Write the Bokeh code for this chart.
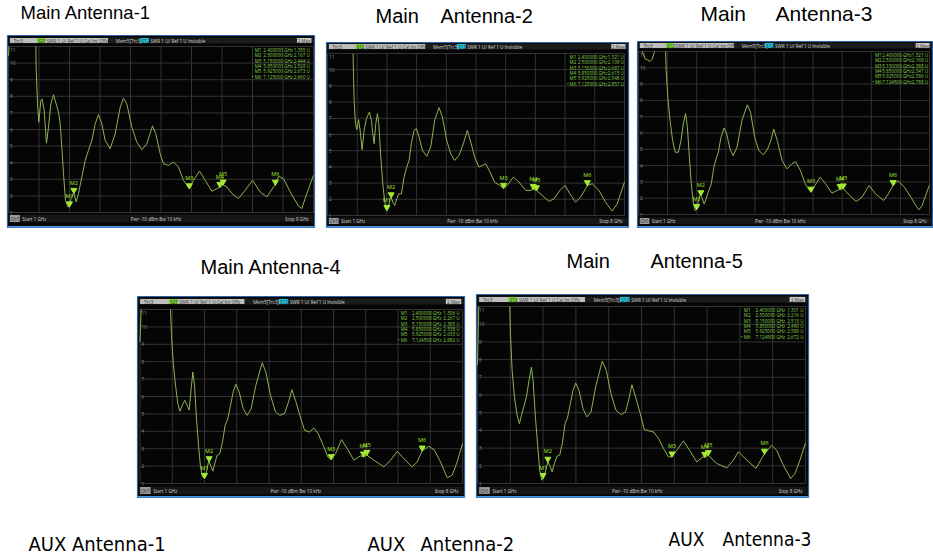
import math
from bokeh.plotting import figure
from bokeh.models import Range1d, InlineStyleSheet
from bokeh.core.properties import value
from bokeh.embed import file_html
from bokeh.resources import INLINE

NAN = float("nan")
W, H = 933, 558

# ---------------- data (frequency GHz, SWR) ----------------
trace_main1 = [(1.0, 10.45), (1.01, 11.0), (NAN, NAN), (1.627, 11.0), (1.635, 9.74), (1.666, 7.54), (1.696, 6.44),
               (1.742, 7.74), (1.773, 7.84), (1.819, 7.14), (1.872, 5.18), (1.918, 6.14), (1.972, 7.54), (2.033, 8.1),
               (2.094, 7.54), (2.148, 7.04), (2.186, 6.34), (2.224, 4.94), (2.262, 3.34), (2.308, 1.74), (2.362, 1.34),
               (2.4, 1.355), (2.44, 1.9), (2.5, 2.167), (2.553, 1.64), (2.607, 2.14), (2.683, 3.14), (2.76, 4.14),
               (2.836, 4.74), (2.913, 5.34), (2.989, 6.34), (3.066, 6.9), (3.142, 6.34), (3.219, 5.34), (3.333, 4.84),
               (3.448, 5.74), (3.563, 7.34), (3.639, 7.88), (3.716, 7.54), (3.831, 6.14), (3.945, 5.24), (4.06, 4.78),
               (4.175, 5.14), (4.305, 6.22), (4.381, 5.74), (4.481, 4.54), (4.557, 3.94), (4.672, 3.84), (4.787, 4.04),
               (4.902, 3.74), (5.016, 2.94), (5.15, 2.444), (5.246, 2.94), (5.384, 3.5), (5.514, 2.94), (5.667, 2.28),
               (5.85, 2.529), (5.925, 2.673), (6.011, 2.54), (6.164, 2.04), (6.279, 1.84), (6.432, 2.34), (6.6, 2.94),
               (6.776, 2.24), (6.929, 1.94), (7.082, 2.54), (7.125, 2.66), (7.197, 3.18), (7.312, 3.04), (7.465, 2.24),
               (7.656, 1.38), (7.732, 1.24), (7.847, 2.14), (8.0, 3.24)]
trace_main2 = [(1.604, 11.0), (1.612, 9.76), (1.628, 8.11), (1.659, 6.67), (1.691, 6.3), (1.73, 6.92), (1.769, 6.26),
               (1.816, 5.06), (1.863, 6.26), (1.918, 6.98), (1.989, 7.39), (2.036, 6.88), (2.067, 6.05), (2.099, 5.43),
               (2.138, 6.67), (2.177, 7.29), (2.209, 6.67), (2.256, 4.61), (2.303, 2.96), (2.35, 1.82), (2.381, 1.41),
               (2.4, 1.321), (2.436, 1.52), (2.476, 2.03), (2.5, 2.109), (2.538, 1.82), (2.585, 1.62), (2.632, 2.03),
               (2.679, 2.34), (2.742, 2.34), (2.805, 3.37), (2.867, 3.99), (2.923, 4.4), (2.977, 5.43), (3.04, 6.26),
               (3.095, 6.36), (3.158, 5.85), (3.237, 5.02), (3.339, 4.65), (3.433, 5.23), (3.527, 6.88), (3.629, 7.66),
               (3.708, 7.08), (3.81, 5.64), (3.904, 4.81), (3.998, 4.4), (4.1, 4.71), (4.202, 5.43), (4.296, 6.26),
               (4.375, 5.54), (4.469, 4.61), (4.571, 3.99), (4.649, 4.09), (4.728, 4.2), (4.83, 3.68), (4.94, 3.06),
               (5.058, 2.86), (5.15, 2.687), (5.238, 2.86), (5.38, 3.37), (5.513, 3.06), (5.67, 2.55), (5.787, 2.55),
               (5.85, 2.615), (5.925, 2.548), (6.062, 2.24), (6.219, 1.87), (6.337, 2.03), (6.478, 2.55), (6.596, 2.86),
               (6.713, 2.34), (6.847, 1.82), (6.964, 2.13), (7.082, 2.65), (7.125, 2.857), (7.239, 2.96), (7.397, 2.55),
               (7.554, 1.82), (7.711, 1.27), (7.828, 1.72), (8.0, 3.06)]
trace_main3 = [(1.085, 11.0), (1.163, 10.53), (1.217, 10.49), (1.279, 10.39), (1.325, 10.51), (1.387, 11.0), (NAN, NAN),
               (1.651, 11.0), (1.666, 9.82), (1.705, 8.18), (1.759, 6.76), (1.821, 5.53), (1.883, 4.82), (1.96, 4.82),
               (2.022, 5.53), (2.077, 6.55), (2.131, 7.2), (2.177, 6.35), (2.224, 4.51), (2.27, 2.88), (2.317, 1.76),
               (2.363, 1.24), (2.4, 1.321), (2.425, 1.65), (2.472, 2.16), (2.5, 2.168), (2.534, 1.96), (2.58, 1.65),
               (2.627, 1.96), (2.689, 2.47), (2.751, 2.88), (2.813, 3.9), (2.867, 4.41), (2.921, 4.82), (2.983, 5.73),
               (3.06, 6.31), (3.122, 5.94), (3.2, 5.02), (3.277, 4.61), (3.37, 5.12), (3.486, 6.76), (3.618, 7.73),
               (3.696, 7.27), (3.796, 5.73), (3.897, 4.92), (4.005, 4.67), (4.106, 5.02), (4.184, 5.53), (4.253, 6.24),
               (4.339, 5.53), (4.455, 4.31), (4.571, 3.8), (4.687, 4.1), (4.78, 4.24), (4.896, 3.69), (5.012, 2.88),
               (5.113, 2.47), (5.15, 2.388), (5.245, 2.78), (5.369, 3.29), (5.5, 2.88), (5.655, 2.31), (5.772, 2.47),
               (5.85, 2.547), (5.925, 2.586), (6.081, 2.16), (6.236, 1.8), (6.376, 2.06), (6.546, 2.78), (6.701, 2.27),
               (6.895, 1.86), (7.011, 2.27), (7.1245, 2.788), (7.243, 3.08), (7.398, 2.67), (7.553, 2.06), (7.669, 1.55),
               (7.747, 1.29), (7.824, 1.55), (7.878, 1.96), (7.979, 2.67), (8.0, 2.8)]
trace_main4 = [(1.0, 9.13), (1.025, 11.0), (NAN, NAN), (1.662, 11.0), (1.684, 9.51), (1.72, 7.98), (1.771, 6.64),
               (1.821, 5.59), (1.865, 5.15), (1.915, 5.49), (1.973, 5.78), (2.024, 5.49), (2.067, 5.21), (2.103, 6.26),
               (2.147, 7.41), (2.183, 6.64), (2.226, 4.73), (2.27, 3.2), (2.313, 1.96), (2.357, 1.38), (2.4, 1.306),
               (2.443, 1.67), (2.487, 2.24), (2.5, 2.267), (2.545, 1.96), (2.581, 1.71), (2.632, 2.24), (2.675, 2.63),
               (2.733, 2.72), (2.791, 3.39), (2.849, 4.35), (2.907, 4.73), (2.965, 5.49), (3.023, 6.26), (3.08, 6.7),
               (3.153, 6.26), (3.24, 5.3), (3.326, 4.92), (3.413, 5.3), (3.514, 6.64), (3.652, 7.94), (3.731, 7.41),
               (3.833, 6.07), (3.941, 5.11), (4.035, 4.92), (4.137, 5.02), (4.223, 5.68), (4.296, 6.39), (4.375, 5.78),
               (4.469, 4.92), (4.571, 4.06), (4.679, 3.96), (4.773, 4.19), (4.867, 3.87), (4.976, 3.2), (5.077, 2.53),
               (5.15, 2.385), (5.244, 2.72), (5.374, 3.52), (5.497, 3.01), (5.642, 2.34), (5.787, 2.59), (5.85, 2.538),
               (5.925, 2.633), (6.076, 2.34), (6.293, 1.96), (6.438, 2.34), (6.583, 2.85), (6.727, 2.43), (6.908, 1.96),
               (7.017, 2.24), (7.1245, 2.882), (7.27, 3.14), (7.393, 2.91), (7.523, 2.24), (7.668, 1.33), (7.776, 1.48),
               (7.885, 2.24), (8.0, 3.29)]
trace_main5 = [(1.0, 7.7), (1.028, 11.0), (NAN, NAN), (1.689, 11.0), (1.703, 9.46), (1.739, 7.39), (1.788, 5.89),
               (1.845, 4.85), (1.895, 4.38), (1.938, 4.85), (1.987, 5.32), (2.044, 5.89), (2.101, 6.83), (2.151, 7.58),
               (2.186, 6.83), (2.236, 4.76), (2.286, 3.07), (2.328, 1.75), (2.371, 1.19), (2.4, 1.301), (2.456, 1.75),
               (2.5, 2.216), (2.555, 1.94), (2.591, 1.66), (2.641, 2.13), (2.697, 2.54), (2.754, 2.6), (2.811, 3.26),
               (2.868, 4.38), (2.925, 4.76), (2.982, 5.51), (3.038, 6.26), (3.095, 6.68), (3.166, 6.26), (3.251, 5.23),
               (3.337, 4.76), (3.422, 5.04), (3.521, 6.45), (3.663, 7.92), (3.749, 7.39), (3.848, 6.08), (3.955, 5.14),
               (4.061, 4.89), (4.16, 5.04), (4.232, 5.79), (4.295, 6.58), (4.374, 5.89), (4.473, 4.95), (4.558, 4.05),
               (4.665, 3.97), (4.757, 3.91), (4.864, 3.54), (4.97, 2.97), (5.077, 2.5), (5.15, 2.513), (5.254, 2.88),
               (5.396, 3.41), (5.524, 2.88), (5.68, 2.22), (5.808, 2.5), (5.85, 2.49), (5.925, 2.589), (6.107, 2.13),
               (6.32, 1.88), (6.462, 2.32), (6.568, 2.79), (6.71, 2.41), (6.944, 1.85), (7.044, 2.32), (7.1245, 2.672),
               (7.278, 3.16), (7.385, 2.88), (7.527, 2.03), (7.683, 1.28), (7.776, 1.56), (7.882, 2.32), (8.0, 3.3)]

marker_names = ["M1", "M2", "M3", "M4", "M5", "M6"]
marker_freq_main1 = [2.4, 2.5, 5.15, 5.85, 5.925, 7.125]
marker_swr_main1 = [1.355, 2.167, 2.444, 2.529, 2.673, 2.660]
marker_freq_main2 = [2.4, 2.5, 5.15, 5.85, 5.925, 7.125]
marker_swr_main2 = [1.321, 2.109, 2.687, 2.615, 2.548, 2.857]
marker_freq_main3 = [2.4, 2.5, 5.15, 5.85, 5.925, 7.1245]
marker_swr_main3 = [1.321, 2.168, 2.388, 2.547, 2.586, 2.788]
marker_freq_main4 = [2.4, 2.5, 5.15, 5.85, 5.925, 7.1245]
marker_swr_main4 = [1.306, 2.267, 2.385, 2.538, 2.633, 2.882]
marker_freq_main5 = [2.4, 2.5, 5.15, 5.85, 5.925, 7.1245]
marker_swr_main5 = [1.301, 2.216, 2.513, 2.490, 2.589, 2.672]

freq_start, freq_stop = 1.0, 8.0
freq_grid = [1.0, 1.7, 2.4, 3.1, 3.8, 4.5, 5.2, 5.9, 6.6, 7.3, 8.0]
swr_grid = [1, 2, 3, 4, 5, 6, 7, 8, 9, 10, 11]
swr_bottom, swr_top = 1.0, 11.0

# ---------------- layout (page pixels) ----------------
PANELS = [
    dict(key="m1", trace=trace_main1, mf=marker_freq_main1, ms=marker_swr_main1, sp="S21",
         L=8, R=313, T=46, B=212, fx0=7, fx1=314, fy0=35, fy1=227, hy0=37, hy1=43, ty0=214, ty1=222),
    dict(key="m2", trace=trace_main2, mf=marker_freq_main2, ms=marker_swr_main2, sp="S12",
         L=327, R=624, T=53, B=215, fx0=326, fx1=628, fy0=42, fy1=227, hy0=43, hy1=49, ty0=217, ty1=224),
    dict(key="m3", trace=trace_main3, mf=marker_freq_main3, ms=marker_swr_main3, sp="S12",
         L=638, R=929, T=51, B=214, fx0=637, fx1=932, fy0=41, fy1=227, hy0=42, hy1=48, ty0=217, ty1=224),
    dict(key="m4", trace=trace_main4, mf=marker_freq_main4, ms=marker_swr_main4, sp="S21",
         L=139.5, R=462, T=309, B=483, fx0=137, fx1=464, fy0=296, fy1=497, hy0=298, hy1=304, ty0=486, ty1=494),
    dict(key="m5", trace=trace_main5, mf=marker_freq_main5, ms=marker_swr_main5, sp="S12",
         L=477, R=805, T=306, B=483, fx0=476, fx1=808, fy0=294, fy1=497, hy0=296, hy1=302, ty0=486, ty1=494),
]

UI = value("Open Sans")
TITLE = value("Liberation Sans")
NARROW = value("DejaVu Sans Condensed")

p = figure(width=W, height=H, x_range=Range1d(0, W), y_range=Range1d(H, 0),
           x_axis_location=None, y_axis_location=None, toolbar_location=None,
           output_backend="svg", min_border=0, title=None)
p.outline_line_color = None
p.background_fill_color = "white"
p.border_fill_color = "white"
p.xgrid.visible = False
p.ygrid.visible = False
p.stylesheets = [InlineStyleSheet(css=":host{position:absolute !important;left:0px !important;top:0px !important;}")]


def ui_text(x, y, txt, color, size="4.6px", align="left"):
    p.text(x=[x], y=[y], text=[txt], text_color=color, text_font=UI, text_font_size=size,
           text_align=align, text_baseline="middle")


for pn in PANELS:
    fx0, fx1 = pn["fx0"], pn["fx1"]
    fw = fx1 - fx0
    hx = lambda f, fx0=fx0, fw=fw: fx0 + f * fw
    # panel body
    p.quad(left=[fx0], right=[fx1], top=[pn["fy0"]], bottom=[pn["fy1"]],
           fill_color="#050505", line_color="#2d64a8", line_width=1.2)
    # header bar
    hy0, hy1 = pn["hy0"], pn["hy1"]
    hm = (hy0 + hy1) / 2
    p.quad(left=[fx0 + 1], right=[fx1 - 1], top=[hy0], bottom=[hy1], fill_color="#1c1c1c", line_color=None)
    p.quad(left=[hx(0.008)], right=[hx(0.327)], top=[hy0 + 0.4], bottom=[hy1 - 0.4], fill_color="#bdbdbd", line_color=None)
    p.quad(left=[hx(0.096)], right=[hx(0.123)], top=[hy0 + 0.4], bottom=[hy1 - 0.4], fill_color="#7acb3a", line_color=None)
    ui_text(hx(0.02), hm, "Trc3", "#303030")
    ui_text(hx(0.1), hm, pn["sp"], "#1c3a10")
    ui_text(hx(0.128), hm, "SWR  1 U/ Ref 1 U  Cal Int Offs", "#3a3a3a")
    ui_text(hx(0.353), hm, "Mem5[Trc3]", "#cfcfcf")
    p.quad(left=[hx(0.432)], right=[hx(0.461)], top=[hy0 + 0.4], bottom=[hy1 - 0.4], fill_color="#2bc0d0", line_color=None)
    ui_text(hx(0.436), hm, "S12", "#0d3340")
    ui_text(hx(0.466), hm, "SWR  1 U/ Ref 1 U  Invisible", "#d8d8d8")
    p.quad(left=[hx(0.943)], right=[hx(0.99)], top=[hy0 + 0.4], bottom=[hy1 - 0.4], fill_color="#c6c6c6", line_color=None)
    ui_text(hx(0.9665), hm, "2.Max", "#303030", align="center")
    # footer bar
    ty0, ty1 = pn["ty0"], pn["ty1"]
    tm = (ty0 + ty1) / 2
    p.quad(left=[fx0 + 1], right=[fx1 - 1], top=[ty0], bottom=[ty1], fill_color="#151515", line_color=None)
    p.quad(left=[hx(0.008)], right=[hx(0.04)], top=[ty0 + 0.6], bottom=[ty1 - 0.6], fill_color="#9a9a9a", line_color=None)
    ui_text(hx(0.024), tm, "Ch1", "#202020", align="center")
    ui_text(hx(0.048), tm, "Start  1 GHz", "#d6d6d6")
    ui_text(hx(0.49), tm, "Pwr  -10 dBm  Bw  10 kHz", "#d6d6d6", align="center")
    ui_text(hx(0.985), tm, "Stop  8 GHz", "#d6d6d6", align="right")
    p.quad(left=[fx0], right=[fx1], top=[pn["fy1"] - 1.6], bottom=[pn["fy1"]], fill_color="#4f95dc", line_color=None)

    # panel scales: frequency (GHz) and SWR mapped onto the plot area of this panel
    L, R, T, B = pn["L"], pn["R"], pn["T"], pn["B"]
    kx = (R - L) / (freq_stop - freq_start)
    ky = (B - T) / (swr_top - swr_bottom)
    xn, yn = "x_" + pn["key"], "y_" + pn["key"]
    p.extra_x_ranges[xn] = Range1d(freq_start - L / kx, freq_start + (W - L) / kx)
    p.extra_y_ranges[yn] = Range1d(swr_top - (H - T) / ky, swr_top + T / ky)
    kw = dict(x_range_name=xn, y_range_name=yn)

    # graticule
    p.segment(x0=freq_grid, y0=[swr_bottom] * len(freq_grid), x1=freq_grid, y1=[swr_top] * len(freq_grid),
              line_color="#333333", line_width=1, **kw)
    p.segment(x0=[freq_start] * len(swr_grid), y0=swr_grid, x1=[freq_stop] * len(swr_grid), y1=swr_grid,
              line_color="#333333", line_width=1, **kw)
    lab = [str(v) for v in swr_grid]
    p.text(x=[freq_start] * 10, y=swr_grid[:10], text=lab[:10], x_offset=1.5, text_color="#8c8c8c",
           text_font=UI, text_font_size="4.6px", text_baseline="middle", **kw)
    p.text(x=[freq_start], y=[swr_top], text=[lab[10]], x_offset=1.5, y_offset=1, text_color="#8c8c8c",
           text_font=UI, text_font_size="4.6px", text_baseline="top", **kw)

    # trace
    xs = [a for a, b in pn["trace"]]
    ys = [b for a, b in pn["trace"]]
    p.line(xs, ys, line_color="#8db352", line_width=1.0, **kw)

    # markers on the trace
    mf, ms = pn["mf"], pn["ms"]
    tri_y = [v + 3.0 / ky for v in ms]
    lab_y = [v + 6.5 / ky for v in ms]
    p.scatter(mf, tri_y, marker="inverted_triangle", size=6, fill_color="#a4ea34", line_color="#a4ea34", **kw)
    p.text(x=mf, y=lab_y, text=marker_names, text_color="#a4ea34", text_font=UI, text_font_size="5.5px",
           text_align="center", text_baseline="bottom", **kw)

    # marker table
    rows_y = [T + 3.5 + 5.3 * i for i in range(6)]
    p.text(x=[hx(0.805)] * 6, y=rows_y, text=marker_names, text_color="#86d24a", text_font=UI,
           text_font_size="4.6px", text_baseline="middle")
    p.text(x=[hx(0.93)] * 6, y=rows_y, text=["%.6f GHz" % f for f in mf], text_color="#86d24a", text_font=UI,
           text_font_size="4.6px", text_baseline="middle", text_align="right")
    p.text(x=[hx(0.985)] * 6, y=rows_y, text=["%.3f U" % v for v in ms], text_color="#86d24a", text_font=UI,
           text_font_size="4.6px", text_baseline="middle", text_align="right")
    p.text(x=[hx(0.796)], y=[rows_y[5]], text=["\u2022"], text_color="#86d24a", text_font=UI,
           text_font_size="4.6px", text_baseline="middle")

# ---------------- captions ----------------
def caption(xs, ys, texts, size, font=TITLE):
    p.text(x=xs, y=ys, text=texts, text_color="black", text_font=font, text_font_size=size,
           text_baseline="middle")

caption([20], [12], ["Main Antenna-1"], "18.5px")
caption([375, 440], [15, 15], ["Main", "Antenna-2"], "20px")
caption([700, 775], [13, 13], ["Main", "Antenna-3"], "21px")
caption([200], [266], ["Main Antenna-4"], "20px")
caption([566, 650], [260, 260], ["Main", "Antenna-5"], "20px")

caption([28], [543], ["AUX Antenna-1"], "20px", NARROW)
caption([367, 420], [543, 543], ["AUX", "Antenna-2"], "20px", NARROW)
caption([668, 722], [538, 538], ["AUX", "Antenna-3"], "19px", NARROW)

open("out.html", "w").write(file_html(p, INLINE))
